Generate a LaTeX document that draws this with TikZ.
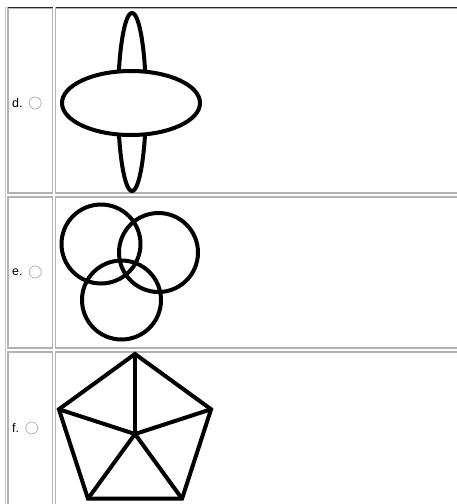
\documentclass[tikz,border=0pt]{standalone}
\usepackage{fontspec}
\setmainfont{Liberation Sans}
\usetikzlibrary{positioning,calc}

\begin{document}
\begin{tikzpicture}[
  x=1pt,y=-1pt,
  cell/.style={draw=gray!60,line width=1.6pt},
  figline/.style={line width=4pt},
  choice/.style={font=\fontsize{12.5}{14}\selectfont,inner sep=0pt,anchor=west},
  radio/.style={circle,draw=gray!60,line width=0.8pt,minimum size=12pt,inner sep=0pt}
]
\useasboundingbox (0,0) rectangle (457,504);

% table frame and cells
\draw[gray!45,line width=1pt] (5.5,7) -- (5.5,510);
\foreach \top/\bot in {8/193,197/348,352/515}{
  \draw[cell] (8,\top) rectangle (52.5,\bot);
  \draw[cell] (55.5,\top) rectangle (465,\bot);
}
\draw[gray!30!black,line width=1.2pt] (8,7.5) -- (52.5,7.5) (55.5,7.5) -- (465,7.5);

% answer labels
\node[choice] (d) at (12,103) {d.};
\node[radio,right=6pt of d] (d radio) {};
\node[choice] (e) at (12,272) {e.};
\node[radio,right=6pt of e] (e radio) {};
\node[choice] (f) at (12,428) {f.};
\node[radio,right=6pt of f] (f radio) {};

% d: two ellipses
\draw[figline] (132,102) ellipse [x radius=14,y radius=89];
\draw[figline,fill=white] (131,103) ellipse [x radius=69,y radius=32];

% e: three circles
\draw[figline] (101,244) circle [radius=39.5];
\draw[figline] (158.5,252.5) circle [radius=39.5];
\draw[figline] (121.5,300) circle [radius=39.5];

% f: pentagon with spokes
\coordinate (hub) at (135,434);
\foreach \i in {0,...,4}
  \coordinate (p\i) at ($(hub)+(-90+72*\i:80)$);
\draw[figline] (p0) -- (p1) -- (p2) -- (p3) -- (p4) -- cycle;
\foreach \i in {0,...,4}
  \draw[figline] (hub) -- (p\i);
\end{tikzpicture}
\end{document}
